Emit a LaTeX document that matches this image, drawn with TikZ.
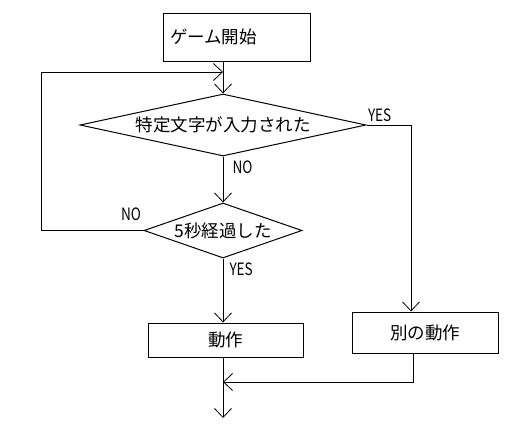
\documentclass[tikz,border=0pt]{standalone}
\usepackage{fontspec}
\setmainfont{Noto Sans CJK JP}
\usetikzlibrary{shapes.geometric,arrows.meta,positioning}
\tikzset{
  box/.style={draw,line width=1pt,inner sep=0pt},
  decide/.style={draw,diamond,line width=1pt,inner sep=0pt},
  lbl/.style={inner sep=0pt,font=\fontsize{17}{19}\selectfont\addfontfeatures{FakeStretch=0.8}},
}

\begin{document}
\begin{tikzpicture}[x=1pt,y=-1pt,line width=1pt,
  >={Straight Barb[length=9pt,width=17pt,line width=0.8pt]},
  font=\fontsize{17.5}{20}\selectfont]
\useasboundingbox[fill=white] (0,0) rectangle (527,434);
\node[box,minimum width=147pt,minimum height=48pt,text width=133pt,
  inner xsep=7pt,align=left] (start) at (236.5,37) {ゲーム開始};
\node[decide,aspect=4.6,minimum width=286pt,minimum height=62pt]
  (d1) at (223,125) {特定文字が入力された};
\node[decide,aspect=2.9,minimum width=158pt,minimum height=55pt]
  (d2) at (223,230.5) {5秒経過した};
\node[box,minimum width=155pt,minimum height=34pt] (act) at (225.5,340) {動作};
\node[box,minimum width=146pt,minimum height=41pt] (other) at (425,332.5) {別の動作};
\coordinate (loop) at (41,72);
\coordinate (yes) at (411,0);
\coordinate (back) at (413,382);
\coordinate (end) at (223,418);
\draw[->] (start.south -| d1.north) -- (d1.north);
\draw[->] (d2.west) -| (loop) -- (loop -| d1.north);
\draw[->] (d1.south) -- (d2.north);
\draw[->] (d1.east) -| (yes |- other.north);
\draw[->] (d2.south) -- (d2.south |- act.north);
\draw[->] (other.south -| back) -- (back) -- (back -| d2.south);
\draw[->] (act.south -| end) -- (end);
\node[lbl,above right=3pt and 1pt of d1.east] {YES};
\node[lbl,below right=4pt and 9pt of d1.south] {NO};
\node[lbl,above left=9pt and 2pt of d2.west] {NO};
\node[lbl,below right=4pt and 6pt of d2.south] {YES};
\end{tikzpicture}
\end{document}
